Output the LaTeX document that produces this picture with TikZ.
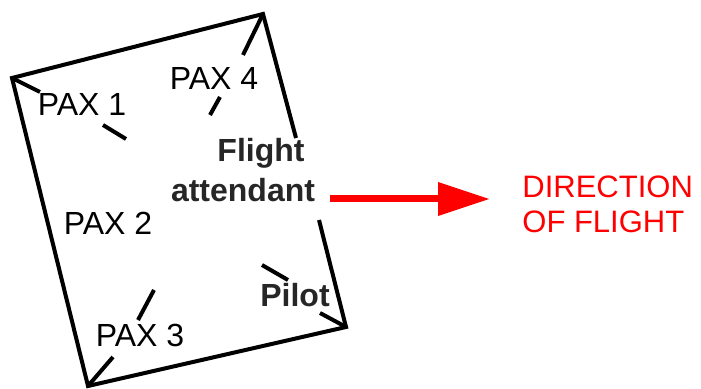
\documentclass[tikz,border=0pt]{standalone}
\usepackage{fontspec}
\setmainfont{Liberation Sans}
\usetikzlibrary{arrows.meta}

\tikzset{
  wall/.style={line width=2pt, line join=miter},
  seatmark/.style={line width=2pt},
  paxtxt/.style={anchor=base, inner sep=0pt, font=\fontsize{16}{19}\selectfont},
  crewtxt/.style={anchor=base, inner sep=0pt, text=black!85, font=\fontsize{16}{19}\selectfont\bfseries},
  dirtxt/.style={anchor=north west, inner sep=0pt, align=left, text=red, font=\fontsize{15.5}{17.5}\selectfont},
  dirarrow/.style={draw=red, line width=3.5pt, -{Triangle[length=26pt,width=16pt]}}
}

\begin{document}
\begin{tikzpicture}[x=0.5pt,y=-0.5pt]
\useasboundingbox (0,0) rectangle (701,389);

% corners of the cabin
\coordinate (tl) at (12,78);
\coordinate (tr) at (263,14);
\coordinate (br) at (346,327);
\coordinate (bl) at (88,386);

% walls, right wall broken by the attendant label
\draw [wall] (296,138) -- (tr) -- (tl) -- (bl) -- (br) -- (319,220);

% seat marks, one pair per seat
\draw [seatmark] (tl) -- (40,92);
\draw [seatmark] (103,125) -- (126,139); %PAX 1
\draw [seatmark] (tr) -- (243,55);
\draw [seatmark] (220,97) -- (210,115); %PAX 4
\draw [seatmark] (br) -- (320,313);
\draw [seatmark] (262,265) -- (288,280); %pilot
\draw [seatmark] (bl) -- (113,357);
\draw [seatmark] (154,290) -- (138,320); %PAX 3

\node [paxtxt] (pax1) at (82,116) {PAX 1};
\node [paxtxt] (pax4) at (214,90) {PAX 4};
\node [paxtxt] (pax2) at (108,235) {PAX 2};
\node [paxtxt] (pax3) at (140,347) {PAX 3};
\node [crewtxt] (pilot) at (295,307) {Pilot};
\node [crewtxt] (fa1) at (261,162) {Flight};
\node [crewtxt] (fa2) at (243,202) {attendant};

% direction of flight
\node [dirtxt] (dir) at (522,175) {DIRECTION\\OF FLIGHT};
\coordinate (tail) at (330,199);
\coordinate (head) at (490,199);
\draw [dirarrow] (tail) -- (head);
\end{tikzpicture}
\end{document}
